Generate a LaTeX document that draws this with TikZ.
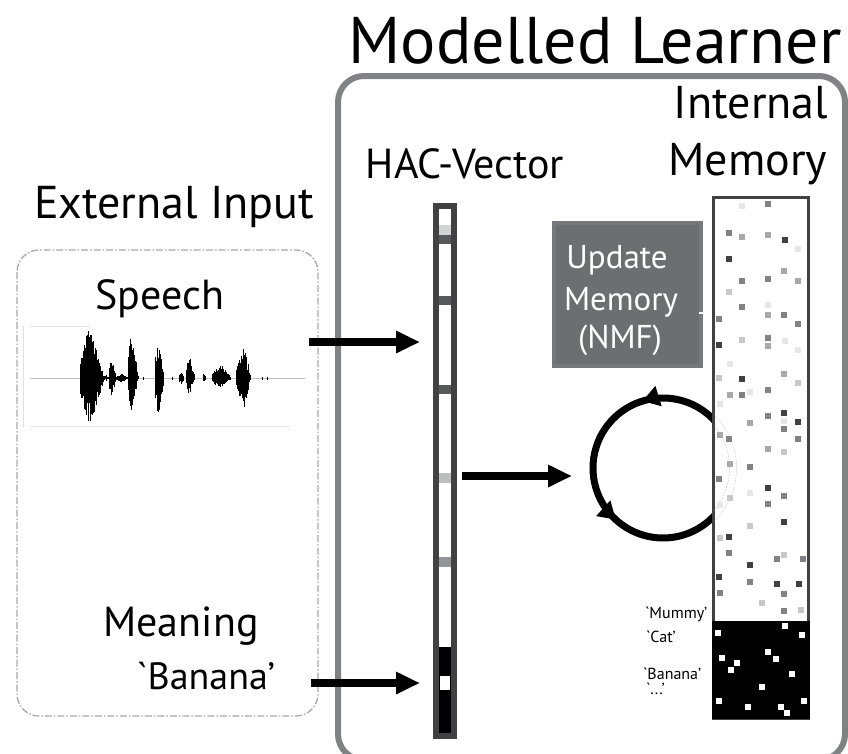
\documentclass[tikz,border=0pt]{standalone}
\usepackage{fontspec}
\setmainfont{PT Sans}
\usetikzlibrary{arrows.meta,decorations.markings}
\definecolor{mlgray}{HTML}{808285}
\definecolor{dashgray}{HTML}{A7A9AC}
\definecolor{hacgray}{HTML}{414042}
\definecolor{updfill}{HTML}{6D6E71}
\definecolor{updedge}{HTML}{77787B}
\definecolor{sqvl}{HTML}{E6E7E8}
\definecolor{sql}{HTML}{C7C8CA}
\definecolor{sqlm}{HTML}{A7A9AC}
\definecolor{sqm}{HTML}{808285}
\definecolor{sqd}{HTML}{414042}
\definecolor{mkl}{HTML}{D1D3D4}
\definecolor{mkd}{HTML}{58595B}
\definecolor{mkm}{HTML}{939598}
\definecolor{mkg}{HTML}{BCBEC0}
\newcommand\fsz[1]{\fontsize{#1}{#1}\selectfont}
\newcommand\wburst[5]{%
  \pgfmathtruncatemacro\wnn{(#2-#1)/0.4}%
  \foreach \k in {0,...,\wnn}{%
    \pgfmathsetmacro\wxx{#1+0.4*\k}%
    \pgfmathsetmacro\wt{max(0.02,min(0.98,(\wxx-#1)/(#2-#1)))}%
    \pgfmathsetmacro\wenv{\wt<#5 ? pow(\wt/#5,0.4) : pow((1-\wt)/(1-#5),0.8)}%
    \pgfmathsetmacro\wru{max(0.8,#3*\wenv*(0.45+0.55*rnd))}%
    \pgfmathsetmacro\wrd{max(0.8,#4*\wenv*(0.45+0.55*rnd))}%
    \draw[wavestroke] (\wxx,378-\wru) -- (\wxx,378+\wrd);
  }}
\begin{document}
\begin{tikzpicture}[x=1pt,y=-1pt,
  bigarrow/.style={line width=8pt,-{Triangle[length=24pt,width=21pt]}},
  lbl/.style={anchor=base,inner sep=0pt,outer sep=0pt,text=black},
  smalllbl/.style={anchor=base west,inner sep=0pt,outer sep=0pt,font=\fsz{16}},
  wavestroke/.style={line width=0.8pt,black},
  ghost/.style={draw=black!18,line width=0.5pt,dash pattern=on 2pt off 1pt},
  hacbar/.style={draw=hacgray,line width=6pt,fill=white,minimum width=18pt,minimum height=530pt,inner sep=0pt},
  membox/.style={draw=hacgray,line width=3pt,fill=white,minimum width=95pt,minimum height=521pt,inner sep=0pt},
  updbox/.style={draw=updedge,line width=4pt,fill=updfill,minimum width=147pt,minimum height=143pt,inner sep=0pt},
  extbox/.style={draw=dashgray,line width=1.3pt,rounded corners=22pt,dash pattern=on 7pt off 2pt on 1.5pt off 2pt},
  mlbox/.style={draw=mlgray,line width=6pt,rounded corners=26pt},
  looparrow/.style={line width=7pt}
]
\useasboundingbox (0,0) rectangle (848,753);
\fill[white] (0,0) rectangle (848,753);

% Modelled learner frame
\draw[mlbox] (338,76) rectangle (845,760);
% External input frame
\draw[extbox] (17,250) rectangle (318,716);

% titles
\node[lbl,font=\fsz{66}] (title) at (595,63) {Modelled Learner};
\node[lbl,font=\fsz{46}] (internal) at (751,118) {Internal};
\node[lbl,font=\fsz{46}] (memtitle) at (748,175) {Memory};
\node[lbl,font=\fsz{42}] (hactitle) at (465,178) {HAC-Vector};
\node[lbl,font=\fsz{46}] (external) at (174,218) {External Input};
\node[lbl,font=\fsz{42}] (speech) at (160,309) {Speech};
\node[lbl,font=\fsz{42}] (meaning) at (181,636) {Meaning};
\node[lbl,font=\fsz{38}] (banana) at (206,689) {\textasciigrave Banana'};

% waveform frame lines
\draw[black!12,line width=0.6pt] (23,326) -- (23,427);
\draw[black!10,line width=0.6pt] (30,326) -- (90,326);
\draw[black!10,line width=0.6pt] (30,426) -- (290,426);
\draw[black!25,line width=0.6pt] (30,378) -- (305,378);
% waveform
\pgfmathsetseed{7}
\wburst{80}{104}{51}{47}{0.4}
\wburst{104}{109}{3}{3}{0.5}
\wburst{109}{116}{23}{20}{0.35}
\wburst{116}{128}{4}{4}{0.5}
\wburst{128}{138}{44}{34}{0.35}
\wburst{155}{164}{38}{39}{0.35}
\wburst{179}{184}{7}{7}{0.5}
\wburst{186}{195}{23}{17}{0.35}
\wburst{203}{205.5}{6}{6}{0.5}
\wburst{212}{231}{13}{10}{0.5}
\wburst{236}{250}{31}{30}{0.6}
\foreach \dx in {143,172,262,267}{\draw[wavestroke] (\dx,376.5) -- (\dx,379.5);}

% HAC vector
\node[hacbar] (hac) at (445,471) {};
\fill[mkl] (439,225) rectangle (451,235);
\fill[mkd] (439,235) rectangle (451,244);
\fill[mkd] (439,296) rectangle (451,305);
\fill[mkd] (439,385) rectangle (451,394);
\fill[mkg] (439,473) rectangle (451,483);
\fill[mkm] (439,557) rectangle (451,567);
\fill[black] (439,647) rectangle (451,733);
\fill[white] (440,676) rectangle (450,690);

% arrows from external input
\coordinate (a1s) at (309,342);
\coordinate (a3s) at (311,683);
\draw[bigarrow,shorten >=13pt] (a1s) -- (hac.west |- a1s);
\draw[bigarrow,shorten >=13pt] (a3s) -- (hac.west |- a3s);

% loop
\coordinate (loopc) at (663,468);
\coordinate (a2) at (462,476);
\draw[bigarrow,shorten <=5pt] (hac.east |- a2) -- (572,476);
\draw[looparrow,postaction={decorate},decoration={markings,
   mark=at position 0.24 with {\arrow{Triangle[length=17pt,width=20pt]}},
   mark=at position 0.67 with {\arrow{Triangle[length=17pt,width=20pt]}}}]
  (loopc) ++(320:70) arc[start angle=320,end angle=40,radius=70];

% internal memory
\node[membox] (mem) at (760.5,457.5) {};
\begin{scope}
  \clip (714.5,198.5) rectangle (806.5,620);
  \draw[ghost] (loopc) circle[radius=66.5];
  \draw[ghost] (loopc) circle[radius=73.5];
\end{scope}
\foreach \x/\y/\c in {742/206/sqvl,768/204/sqm,729/233/sqm,742/237/sqlm,768/235/sqlm,785/240/sqd,798/249/sqvl,
  729/259/sqd,784/271/sqlm,742/281/sqm,768/279/sqm,798/281/sqlm,729/292/sql,742/307/sqm,768/305/sqvl,
  768/315/sqlm,784/315/sqm,719/319/sqm,798/324/sqm,719/345/sqd,742/340/sql,768/338/sqm,768/346/sqlm,
  785/341/sqvl,798/350/sqvl,730/364/sqvl,719/378/sql,742/379/sqd,784/374/sqlm,798/383/sql,730/395/sqlm,
  742/395/sqm,750/392/sqvl,768/390/sqm,720/404/sqvl,784/413/sqd,768/416/sqm,750/423/sqlm,784/421/sqvl,
  784/429/sqm,798/422/sqd,720/435/sqlm,729/439/sqm,798/439/sqm,768/449/sqlm,784/452/sql,730/464/sqlm,
  750/467/sqm,719/479/sqm,768/488/sqd,750/493/sqvl,730/498/sql,784/496/sqm,768/504/sqm,720/505/sqvl,
  784/522/sqd,750/526/sql,720/538/sql,729/537/sqd,729/553/sqm,777/559/sqm,784/555/sql,803/559/sqm,
  750/565/sqd,719/577/sqd,750/582/sqm,777/584/sqd,799/584/sqd,784/594/sqm,720/593/sqm,762/603/sql,
  784/611/sqm,801/610/sql}
  {\fill[\c] (\x-2.75,\y-2.75) rectangle ++(5.5,5.5);}
\fill[black] (712,621) rectangle (809.5,719);
\foreach \x/\y in {785/626,718/633,802/635,768/652,722/658,776/659,737/663,731/670,792/674,
  762/687,719/701,804/701,748/707,781/707,787/713}
  {\fill[white] (\x-3,\y-3) rectangle ++(6,6);}

% word labels
\node[smalllbl] (lmummy) at (645,618) {\textasciigrave Mummy'};
\node[smalllbl] (lcat) at (646,642) {\textasciigrave Cat'};
\node[smalllbl] (lbanana) at (643,679) {\textasciigrave Banana'};
\node[smalllbl] (ldots) at (646,694) {\textasciigrave...'};

% update memory
\node[updbox] (update) at (627.5,294.5) {};
\draw[white,line width=1.5pt] (699,313) -- (704,313);
\node[lbl,text=white,font=\fsz{33}] (u1) at (617,268) {Update};
\node[lbl,text=white,font=\fsz{33}] (u2) at (621,310) {Memory};
\node[lbl,text=white,font=\fsz{33}] (u3) at (620,348) {(NMF)};
\end{tikzpicture}
\end{document}
